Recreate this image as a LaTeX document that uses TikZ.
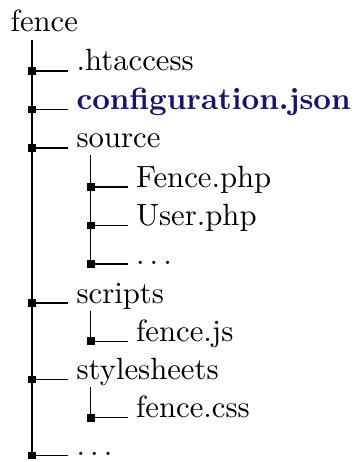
\documentclass[tikz,border=0pt]{standalone}
\usepackage{tikz}
\usetikzlibrary{positioning}
\definecolor{dirblue}{HTML}{14146E}

\begin{document}
\begin{tikzpicture}[x=0.3257pt, y=-0.3257pt,
  every node/.style={font=\normalsize},
  entry/.style={anchor=base west, inner xsep=2.6pt, inner ysep=0pt},
  sq/.style={fill=black, inner sep=0pt, minimum size=2.6pt},
  treeline/.style={line width=0.45pt}]
  \useasboundingbox (0,0) rectangle (356,462);
  % root
  \node[anchor=base west, inner sep=0pt] (root) at (10,32) {fence};
  \coordinate (rootfoot) at (32,40.5);
  % first level
  \node[sq] (d1) at (32,71) {};
  \node[entry] (htaccess) at (68,71) {.htaccess};
  \node[sq] (d2) at (32,109.5) {};
  \node[entry, text=dirblue, font=\bfseries] (config) at (68,109.5) {configuration.json};
  \node[sq] (d3) at (32,148) {};
  \node[entry] (source) at (68,148) {source};
  \node[sq] (d7) at (32,303) {};
  \node[entry] (scripts) at (68,303) {scripts};
  \node[sq] (d9) at (32,379.5) {};
  \node[entry] (stylesheets) at (68,379.5) {stylesheets};
  \node[sq] (d11) at (32,455.5) {};
  \node[entry] (rootdots) at (68,455.5) {$\ldots$};
  % source
  \coordinate (sourcefoot) at (90.7,155.5);
  \node[sq] (d4) at (90.7,187) {};
  \node[entry] (fencephp) at (127.5,187) {Fence.php};
  \node[sq] (d5) at (90.7,225.5) {};
  \node[entry] (userphp) at (127.5,225.5) {User.php};
  \node[sq] (d6) at (90.7,264) {};
  \node[entry] (sourcedots) at (127.5,264) {$\ldots$};
  % scripts
  \coordinate (scriptsfoot) at (90.7,310.5);
  \node[sq] (d8) at (90.7,341.3) {};
  \node[entry] (fencejs) at (127.5,341.3) {fence.js};
  % stylesheets
  \coordinate (stylesfoot) at (90.7,387);
  \node[sq] (d10) at (90.7,417.7) {};
  \node[entry] (fencecss) at (127.5,417.7) {fence.css};
  % vertical lines
  \draw[treeline] (rootfoot) -- (d11.center);
  \draw[treeline] (sourcefoot) -- (d6.center);
  \draw[treeline] (scriptsfoot) -- (d8.center);
  \draw[treeline] (stylesfoot) -- (d10.center);
  % branches
  \draw[treeline] (d1.center) -- (htaccess.base west);
  \draw[treeline] (d2.center) -- (config.base west);
  \draw[treeline] (d3.center) -- (source.base west);
  \draw[treeline] (d7.center) -- (scripts.base west);
  \draw[treeline] (d9.center) -- (stylesheets.base west);
  \draw[treeline] (d11.center) -- (rootdots.base west);
  \draw[treeline] (d4.center) -- (fencephp.base west);
  \draw[treeline] (d5.center) -- (userphp.base west);
  \draw[treeline] (d6.center) -- (sourcedots.base west);
  \draw[treeline] (d8.center) -- (fencejs.base west);
  \draw[treeline] (d10.center) -- (fencecss.base west);
\end{tikzpicture}
\end{document}
